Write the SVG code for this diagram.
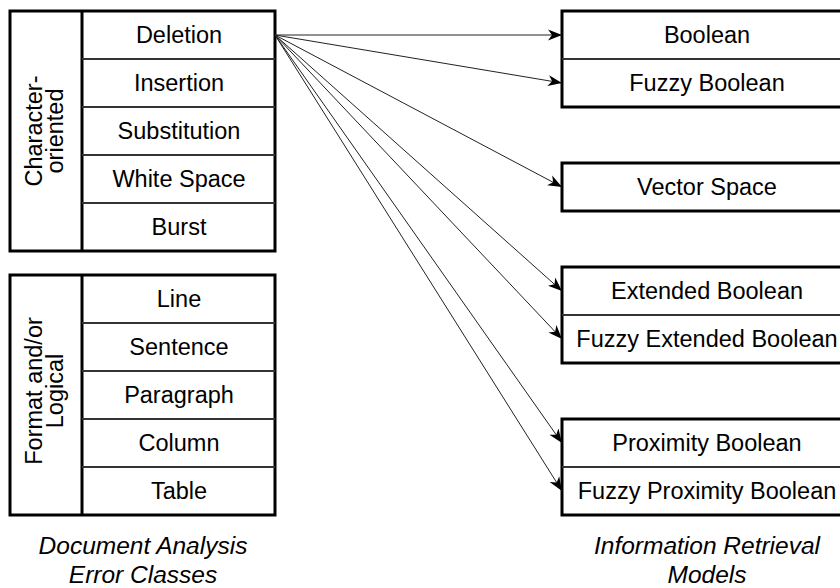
<svg xmlns="http://www.w3.org/2000/svg" width="840" height="588" viewBox="0 0 840 588">
<defs>
<style>
.box{fill:#fff;stroke:#000;stroke-width:3}
.div{stroke:#333;stroke-width:2;fill:none}
.vdiv{stroke:#000;stroke-width:3;fill:none}
.t{font-family:"Liberation Sans",Arial,sans-serif;font-size:23.5px;fill:#000;text-anchor:middle}
.cap{font-family:"Liberation Sans",Arial,sans-serif;font-size:24.5px;font-style:italic;fill:#000;text-anchor:middle}
.conn{stroke:#222;stroke-width:1;fill:none;marker-end:url(#ah)}
</style>
<marker id="ah" markerUnits="userSpaceOnUse" markerWidth="16" markerHeight="12" refX="14" refY="6" orient="auto" viewBox="0 0 16 12">
<path d="M0,0.5 L14,6 L0,11.5 L4,6 z" fill="#000"/>
</marker>
</defs>
<rect width="840" height="588" fill="#fff"/>

<g id="character-oriented">
<rect class="box" x="10" y="11" width="265" height="240"/>
<line class="vdiv" x1="82" y1="11" x2="82" y2="251"/>
<line class="div" x1="82" y1="59" x2="275" y2="59"/>
<line class="div" x1="82" y1="107" x2="275" y2="107"/>
<line class="div" x1="82" y1="155" x2="275" y2="155"/>
<line class="div" x1="82" y1="203" x2="275" y2="203"/>
<text class="t" transform="translate(42,131) rotate(-90)">Character-</text>
<text class="t" transform="translate(63,131) rotate(-90)">oriented</text>
<text class="t" x="179" y="43">Deletion</text>
<text class="t" x="179" y="91">Insertion</text>
<text class="t" x="179" y="139">Substitution</text>
<text class="t" x="179" y="187">White Space</text>
<text class="t" x="179" y="235">Burst</text>
</g>

<g id="format-logical">
<rect class="box" x="10" y="275" width="265" height="240"/>
<line class="vdiv" x1="82" y1="275" x2="82" y2="515"/>
<line class="div" x1="82" y1="323" x2="275" y2="323"/>
<line class="div" x1="82" y1="371" x2="275" y2="371"/>
<line class="div" x1="82" y1="419" x2="275" y2="419"/>
<line class="div" x1="82" y1="467" x2="275" y2="467"/>
<text class="t" transform="translate(42,391) rotate(-90)">Format and/or</text>
<text class="t" transform="translate(63,391) rotate(-90)">Logical</text>
<text class="t" x="179" y="307">Line</text>
<text class="t" x="179" y="355">Sentence</text>
<text class="t" x="179" y="403">Paragraph</text>
<text class="t" x="179" y="451">Column</text>
<text class="t" x="179" y="499">Table</text>
</g>

<g id="boolean-group">
<rect class="box" x="562" y="11" width="290" height="96"/>
<line class="div" x1="562" y1="59" x2="852" y2="59"/>
<text class="t" x="707" y="43">Boolean</text>
<text class="t" x="707" y="91">Fuzzy Boolean</text>
</g>

<g id="vector-space">
<rect class="box" x="562" y="163" width="290" height="48"/>
<text class="t" x="707" y="195">Vector Space</text>
</g>

<g id="extended-group">
<rect class="box" x="562" y="267" width="290" height="96"/>
<line class="div" x1="562" y1="315" x2="852" y2="315"/>
<text class="t" x="707" y="299">Extended Boolean</text>
<text class="t" x="707" y="347">Fuzzy Extended Boolean</text>
</g>

<g id="proximity-group">
<rect class="box" x="562" y="419" width="290" height="96"/>
<line class="div" x1="562" y1="467" x2="852" y2="467"/>
<text class="t" x="707" y="451">Proximity Boolean</text>
<text class="t" x="707" y="499">Fuzzy Proximity Boolean</text>
</g>

<g id="connectors">
<line class="conn" x1="275" y1="35" x2="562" y2="35"/>
<line class="conn" x1="275" y1="35" x2="562" y2="83"/>
<line class="conn" x1="275" y1="35" x2="562" y2="187"/>
<line class="conn" x1="275" y1="35" x2="562" y2="291"/>
<line class="conn" x1="275" y1="35" x2="562" y2="339"/>
<line class="conn" x1="275" y1="35" x2="562" y2="443"/>
<line class="conn" x1="275" y1="35" x2="562" y2="491"/>
</g>

<g id="captions">
<text class="cap" x="143" y="554">Document Analysis</text>
<text class="cap" x="143" y="583">Error Classes</text>
<text class="cap" x="707" y="554">Information Retrieval</text>
<text class="cap" x="707" y="583">Models</text>
</g>
</svg>
